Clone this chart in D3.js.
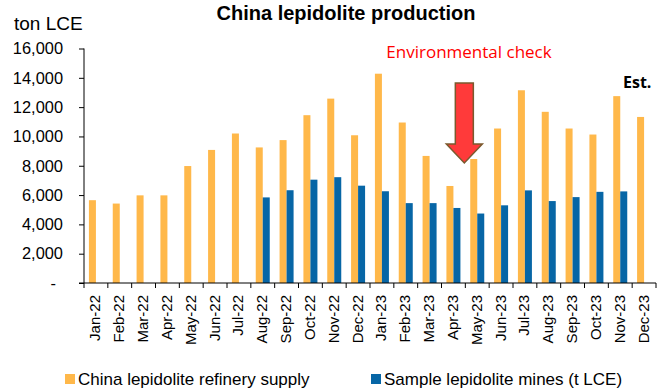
<!DOCTYPE html>
<html>
<head>
<meta charset="utf-8">
<script src="https://cdn.jsdelivr.net/npm/d3@7"></script>
<style>
  body { margin: 0; background: #fff; }
  svg text { font-family: Arial, "Liberation Sans", sans-serif; fill: #000; }
</style>
</head>
<body>
<div id="chart"></div>
<script>
var months = ["Jan-22", "Feb-22", "Mar-22", "Apr-22", "May-22", "Jun-22", "Jul-22", "Aug-22",
    "Sep-22", "Oct-22", "Nov-22", "Dec-22", "Jan-23", "Feb-23", "Mar-23", "Apr-23",
    "May-23", "Jun-23", "Jul-23", "Aug-23", "Sep-23", "Oct-23", "Nov-23", "Dec-23"];

// China lepidolite refinery supply (ton LCE)
var refinery = [5650, 5420, 5980, 5980, 7980, 9080, 10200, 9250, 9750, 11450, 12580, 10080,
    14280, 10950, 8670, 6620, 8460, 10540, 13150, 11680, 10540, 10130, 12750, 11330];

// Sample lepidolite mines (t LCE), null = no data
var mines = [null, null, null, null, null, null, null, 5840, 6330, 7050, 7220, 6640,
    6260, 5450, 5450, 5120, 4740, 5300, 6320, 5590, 5860, 6220, 6250, null];

var yTicks = [0, 2000, 4000, 6000, 8000, 10000, 12000, 14000, 16000];

var seriesNames = ["China lepidolite refinery supply", "Sample lepidolite mines (t LCE)"];
var colours = ["#FFB84A", "#0766A6"];

var W = 666, H = 392;
var margin = { top: 48.5, right: 10, bottom: 109, left: 84 };
var width = 656 - margin.left,
    height = 283 - margin.top;

var svg = d3.select("#chart").append("svg")
    .attr("width", W)
    .attr("height", H);

var g = svg.append("g")
    .attr("transform", "translate(" + margin.left + "," + margin.top + ")");

var x = d3.scaleBand()
    .domain(months)
    .range([0, width]);

var y = d3.scaleLinear()
    .domain([0, 16000])
    .range([height, 0]);

var barW = 7;
var groupOff = (x.bandwidth() - 2 * barW) / 2;

// refinery bars
g.append("g").selectAll("rect")
    .data(refinery)
    .enter().append("rect")
    .attr("x", function(d, i) { return x(months[i]) + groupOff; })
    .attr("y", function(d) { return y(d); })
    .attr("width", barW)
    .attr("height", function(d) { return height - y(d); })
    .style("fill", colours[0]);

// mine bars
g.append("g").selectAll("rect")
    .data(mines.map(function(v, i) { return { m: months[i], v: v }; })
        .filter(function(d) { return d.v != null; }))
    .enter().append("rect")
    .attr("x", function(d) { return x(d.m) + groupOff + barW; })
    .attr("y", function(d) { return y(d.v); })
    .attr("width", barW)
    .attr("height", function(d) { return height - y(d.v); })
    .style("fill", colours[1]);

// y axis
var yAxis = d3.axisLeft(y)
    .tickValues(yTicks)
    .tickSize(5)
    .tickPadding(16)
    .tickFormat(function(d) { return d === 0 ? "-" : d3.format(",")(d); });

var yAxisElem = g.append("g")
    .attr("class", "y-axis")
    .call(yAxis);
yAxisElem.select(".domain").attr("stroke", "#000").attr("d", "M0,0V" + height);
yAxisElem.selectAll("line").attr("stroke", "#000");
yAxisElem.selectAll("text").attr("font-size", "16.4px");
yAxisElem.selectAll(".tick")
    .filter(function(d) { return d === 0; })
    .select("text").attr("x", -28);

// x axis: ticks between bands
var xAxisG = g.append("g")
    .attr("transform", "translate(0," + height + ")");
xAxisG.append("line")
    .attr("x1", -5).attr("x2", width)
    .attr("stroke", "#000");
xAxisG.selectAll(".sep")
    .data(months.concat(["end"]))
    .enter().append("line")
    .attr("x1", function(d, i) { return i * x.step(); })
    .attr("x2", function(d, i) { return i * x.step(); })
    .attr("y1", 0).attr("y2", 5)
    .attr("stroke", "#000");
xAxisG.selectAll(".lbl")
    .data(months)
    .enter().append("text")
    .attr("transform", function(d) {
        return "translate(" + (x(d) + x.bandwidth() / 2 + 4.5) + ",12) rotate(-90)";
    })
    .attr("text-anchor", "end")
    .attr("font-size", "15px")
    .text(function(d) { return d; });

// titles
svg.append("text")
    .attr("x", 14).attr("y", 30)
    .attr("font-size", "19px")
    .text("ton LCE");

svg.append("text")
    .attr("x", 346).attr("y", 20)
    .attr("text-anchor", "middle")
    .attr("font-size", "20px")
    .attr("font-weight", "bold")
    .text("China lepidolite production");

svg.append("text")
    .attr("x", 469).attr("y", 58)
    .attr("text-anchor", "middle")
    .attr("font-size", "17px")
    .style("font-family", "'Open Sans', sans-serif")
    .style("fill", "#FF0000")
    .text("Environmental check");

svg.append("text")
    .attr("x", 623).attr("y", 88)
    .attr("font-size", "16px")
    .attr("font-weight", "bold")
    .style("font-family", "'Open Sans', sans-serif")
    .text("Est.");

// arrow pointing at Apr/May-23
var ax = margin.left + x("May-23") - 1;
var arrowPts = [[ax - 9, 83], [ax + 9, 83], [ax + 9, 144], [ax + 18, 144], [ax, 163], [ax - 18, 144], [ax - 9, 144]];
svg.append("path")
    .attr("d", d3.line()(arrowPts) + "Z")
    .style("fill", "#FF3A3A")
    .style("stroke", "#7A5A2E")
    .style("stroke-width", 1.5);

// legend
var legendX = [65, 371];
var legend = svg.append("g").selectAll("g")
    .data(seriesNames)
    .enter().append("g")
    .attr("transform", function(d, i) { return "translate(" + legendX[i] + ",374)"; });
legend.append("rect")
    .attr("width", 10).attr("height", 10)
    .style("fill", function(d, i) { return colours[i]; });
legend.append("text")
    .attr("x", 13).attr("y", 11)
    .attr("font-size", "17px")
    .text(function(d) { return d; });
</script>
</body>
</html>
